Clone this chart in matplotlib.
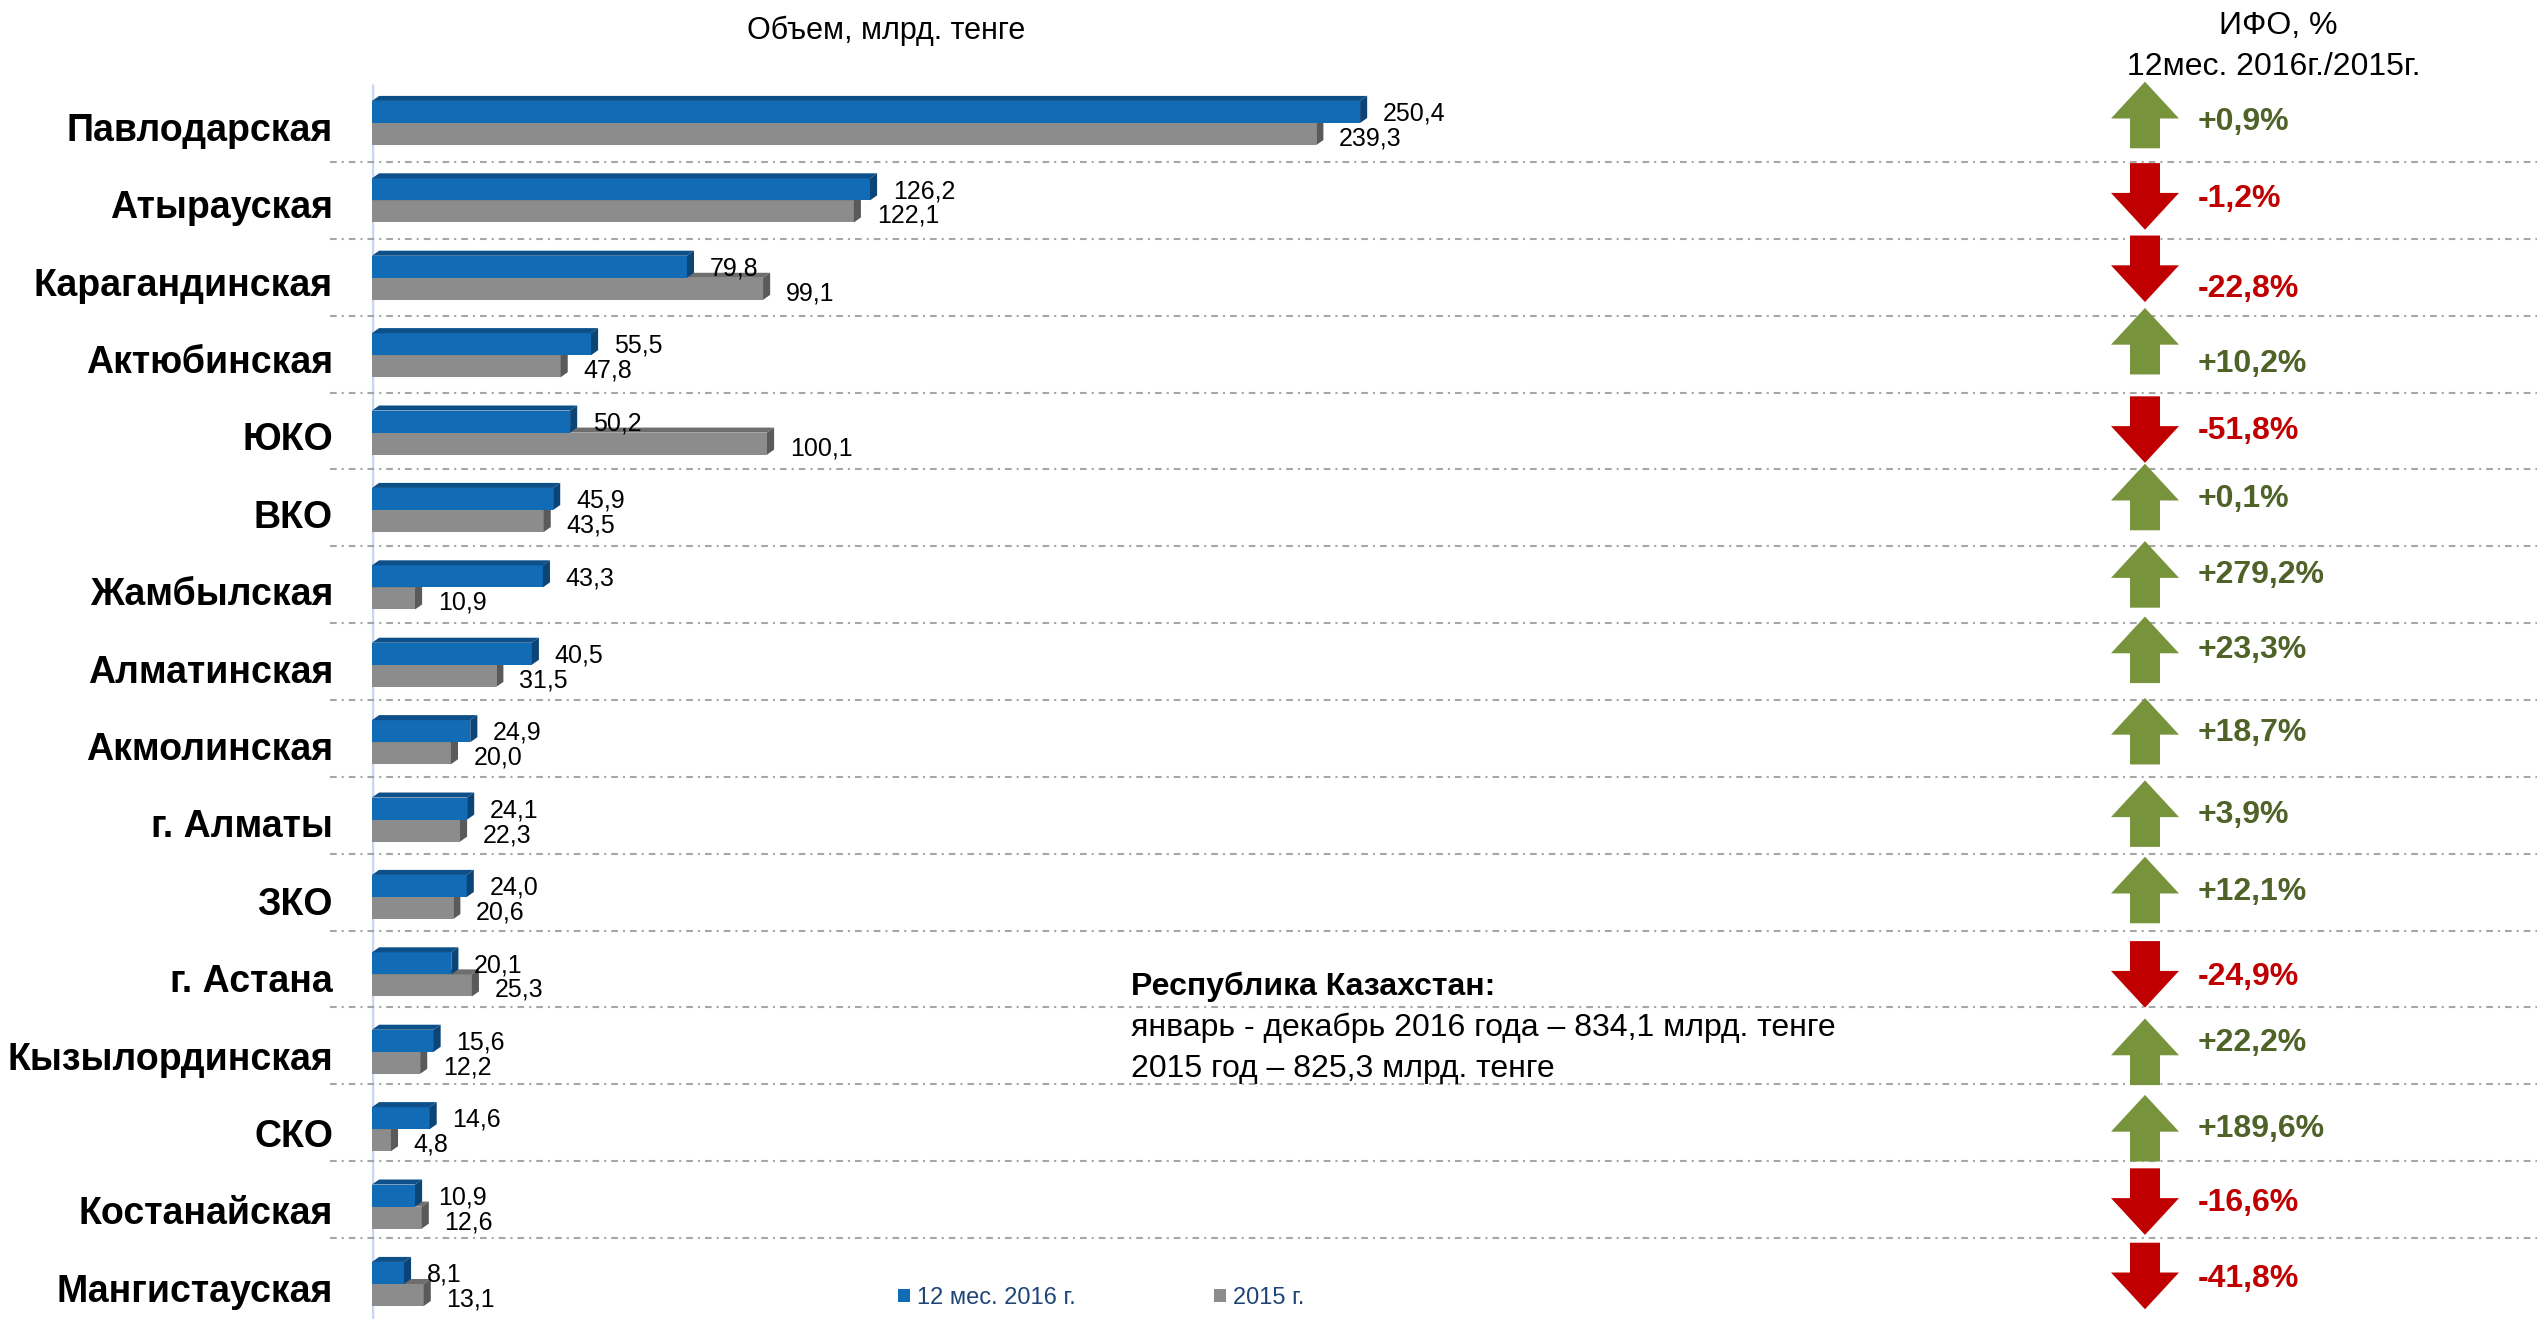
#!/usr/bin/env python3
"""Investments in fixed assets by region, 12 months 2016 vs 2015."""

import matplotlib
matplotlib.use("Agg")
import matplotlib.pyplot as plt
from matplotlib.patches import Polygon, Patch

REGIONS = [
    "Павлодарская", "Атырауская", "Карагандинская", "Актюбинская", "ЮКО",
    "ВКО", "Жамбылская", "Алматинская", "Акмолинская", "г. Алматы", "ЗКО",
    "г. Астана", "Кызылординская", "СКО", "Костанайская", "Мангистауская",
]
VOL_2016 = [250.4, 126.2, 79.8, 55.5, 50.2, 45.9, 43.3, 40.5,
            24.9, 24.1, 24.0, 20.1, 15.6, 14.6, 10.9, 8.1]
VOL_2015 = [239.3, 122.1, 99.1, 47.8, 100.1, 43.5, 10.9, 31.5,
            20.0, 22.3, 20.6, 25.3, 12.2, 4.8, 12.6, 13.1]
IFO_PCT = [0.9, -1.2, -22.8, 10.2, -51.8, 0.1, 279.2, 23.3,
           18.7, 3.9, 12.1, -24.9, 22.2, 189.6, -16.6, -41.8]
SERIES_LABELS = ["12 мес. 2016 г.", "2015 г."]

BLUE = ("#116CB5", "#0D4F88", "#0B4476")   # front, top, side
GRAY = ("#8C8C8C", "#6E6E6E", "#5A5A5A")
GREEN = "#77933C"
GREEN_TXT = "#4F6228"
RED = "#C00000"
NAVY = "#1F4478"

W, H = 2537, 1319
X0_PX = 372           # x of value 0
PX_PER_UNIT = 3.946
ROW0_PX, ROW_PX = 123, 77.4
SEP0_PX, SEP_PX = 162, 76.85

BAR_H = 0.285
DX, DY = 1.8, 0.065   # 3d depth

# hand placed arrows / percent labels drift a little from the rows (px)
ARROW_NUDGE = [-8, -4, -9, -14, -3, -13, -13, -15, -11, -6, -7, 0, 0, -1, -5, -8]
PCT_NUDGE = [-3, -3, 10, 7, -3, -13, -14, -16, -11, -6, -7, 1, -10, -2, -5, -7]


def fmt(v):
    return f"{v:.1f}".replace(".", ",")


def bar3d(ax, y_top, y_bot, v, cols):
    front, top, side = cols
    ax.add_patch(Polygon([(0, y_top), (v, y_top), (v, y_bot), (0, y_bot)],
                         closed=True, fc=front, ec="none", zorder=2))
    ax.add_patch(Polygon([(0, y_top), (v, y_top), (v + DX, y_top - DY), (DX, y_top - DY)],
                         closed=True, fc=top, ec="none", zorder=2))
    ax.add_patch(Polygon([(v, y_top), (v + DX, y_top - DY), (v + DX, y_bot - DY), (v, y_bot)],
                         closed=True, fc=side, ec="none", zorder=2))


def main():
    plt.rcParams["font.family"] = ["Liberation Sans", "DejaVu Sans"]
    fig = plt.figure(figsize=(W / 100, H / 100), dpi=100)
    fig.patch.set_facecolor("white")

    ylim = ((H - ROW0_PX) / ROW_PX, -ROW0_PX / ROW_PX)

    ax = fig.add_axes([X0_PX / W, 0, 1 - X0_PX / W, 1])
    ax.set_xlim(0, (W - X0_PX) / PX_PER_UNIT)
    ax.set_ylim(*ylim)
    ax.axis("off")

    ov = fig.add_axes([0, 0, 1, 1], zorder=3)
    ov.set_xlim(0, 1)
    ov.set_ylim(*ylim)
    ov.axis("off")
    ov.patch.set_alpha(0)

    n = len(REGIONS)
    # axis line and separators
    ax.vlines(0, -0.5, ylim[0], color="#C6D7EE", lw=2.5, zorder=1)
    for k in range(n - 1):
        ys = (SEP0_PX + k * SEP_PX - ROW0_PX) / ROW_PX
        ov.plot([330 / W, 1], [ys, ys], color="#A6A6A6", lw=1.5,
                ls=(0, (3.2, 2.4, 1.0, 2.4)), zorder=0)

    gap = 4.0
    for i in range(n):
        # 2015 bar below, 2016 bar above the row line
        bar3d(ax, i, i + BAR_H, VOL_2015[i], GRAY)
        bar3d(ax, i - BAR_H, i, VOL_2016[i], BLUE)
        ax.text(VOL_2016[i] + DX + gap, i - 0.12, fmt(VOL_2016[i]), fontsize=18,
                ha="left", va="center", zorder=4)
        ax.text(VOL_2015[i] + DX + gap, i + 0.2, fmt(VOL_2015[i]), fontsize=18,
                ha="left", va="center", zorder=4)

        ov.text(333 / W, i + 0.1, REGIONS[i], fontsize=27, fontweight="bold",
                ha="right", va="center")

        # arrow
        p = IFO_PCT[i]
        col = GREEN if p >= 0 else RED
        cx, cy = 2145 / W, i + ARROW_NUDGE[i] / ROW_PX
        hw, sw = 34 / W, 15 / W
        half, head = 0.43, 0.475
        if p >= 0:
            tip, base = cy - half, cy + half
            neck = tip + head
        else:
            tip, base = cy + half, cy - half
            neck = tip - head
        ov.add_patch(Polygon([(cx, tip), (cx + hw, neck), (cx + sw, neck), (cx + sw, base),
                              (cx - sw, base), (cx - sw, neck), (cx - hw, neck)],
                             closed=True, fc=col, ec="none"))
        ov.text(2198 / W, i + PCT_NUDGE[i] / ROW_PX + 0.02,
                f"{p:+.1f}%".replace(".", ","),
                color=GREEN_TXT if p >= 0 else RED,
                fontsize=23, fontweight="bold", ha="left", va="center")

    fig.text(886 / W, 1 - 31 / H, "Объем, млрд. тенге", fontsize=22,
             ha="center", va="center")
    fig.text(2278 / W, 1 - 26 / H, "ИФО, %", fontsize=23, ha="center", va="center")
    fig.text(2274 / W, 1 - 67 / H, "12мес. 2016г./2015г.", fontsize=23,
             ha="center", va="center")

    fig.text(1131 / W, 1 - 987 / H, "Республика Казахстан:", fontsize=23,
             fontweight="bold", ha="left", va="center")
    fig.text(1131 / W, 1 - 1028 / H,
             "январь - декабрь 2016 года – 834,1 млрд. тенге",
             fontsize=23, ha="left", va="center")
    fig.text(1131 / W, 1 - 1069 / H, "2015 год – 825,3 млрд. тенге",
             fontsize=23, ha="left", va="center")

    handles = [Patch(fc=BLUE[0]), Patch(fc=GRAY[0])]
    fig.legend(handles, SERIES_LABELS, loc="center left",
               bbox_to_anchor=(898 / W, 21 / H), ncol=2, frameon=False,
               fontsize=17, labelcolor=NAVY, handlelength=0.5, handleheight=0.5,
               handletextpad=0.3, columnspacing=5.85, borderpad=0, borderaxespad=0)

    fig.savefig("out.png", dpi=100)
    plt.close(fig)


if __name__ == "__main__":
    main()
